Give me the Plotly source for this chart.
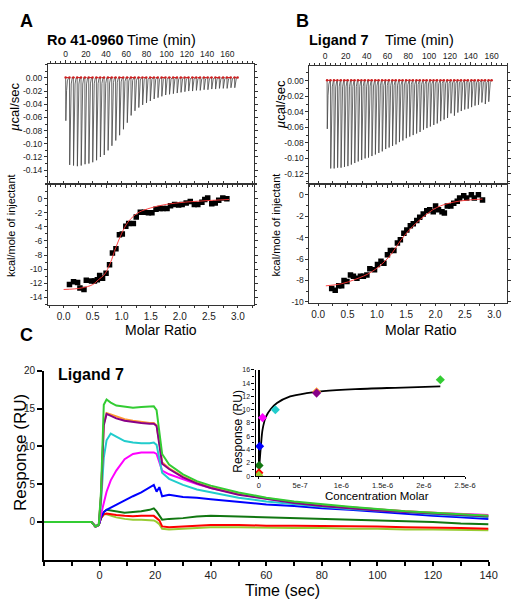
import plotly.graph_objects as go

FONT = "Liberation Sans, Arial, Helvetica, sans-serif"
W, H = 526, 603

# ---------------- Panel A : Ro 41-0960 (ITC) ----------------
a_inj_time = [0, 3.8, 7.6, 11.4, 15.2, 19.0, 22.8, 26.6, 30.4, 34.2, 38.0, 41.8, 45.6, 49.4, 53.2,
              57.0, 60.8, 64.6, 68.4, 72.2, 76.0, 79.8, 83.6, 87.4, 91.2, 95.0, 98.8, 102.6, 106.4,
              110.2, 114.0, 117.8, 121.6, 125.4, 129.2, 133.0, 136.8, 140.6, 144.4, 148.2, 152.0,
              155.8, 159.6, 163.4, 167.2]
a_peak = [-0.065, -0.132, -0.133, -0.134, -0.133, -0.131, -0.130, -0.128, -0.125, -0.120, -0.117,
          -0.110, -0.103, -0.095, -0.087, -0.078, -0.068, -0.057, -0.050, -0.045, -0.041, -0.038,
          -0.035, -0.032, -0.030, -0.028, -0.026, -0.025, -0.024, -0.023, -0.022, -0.021, -0.020,
          -0.020, -0.019, -0.019, -0.018, -0.018, -0.017, -0.017, -0.016, -0.016, -0.016, -0.015,
          -0.015]
a_molar = [0.10, 0.17, 0.24, 0.28, 0.35, 0.39, 0.48, 0.53, 0.58, 0.62, 0.67, 0.73, 0.79, 0.84, 0.90,
           0.96, 1.01, 1.07, 1.12, 1.20, 1.25, 1.32, 1.39, 1.46, 1.52, 1.59, 1.66, 1.71, 1.78, 1.84,
           1.91, 1.98, 2.04, 2.11, 2.18, 2.25, 2.31, 2.38, 2.43, 2.48, 2.55, 2.61, 2.67, 2.74, 2.81]
a_heat = [-12.2, -11.8, -11.9, -12.7, -12.9, -11.6, -11.7, -11.7, -11.5, -10.9, -11.3, -10.6, -9.4,
          -7.7, -7.1, -5.1, -5.0, -3.9, -3.5, -3.5, -2.6, -1.9, -1.9, -2.0, -2.0, -1.5, -1.4, -1.4,
          -1.4, -1.0, -0.8, -0.9, -0.8, -0.6, -0.4, -0.8, -0.8, -0.5, -0.1, 0.1, -0.7, -0.6, -0.2,
          0.1, 0.0]
a_fit_molar = [0.0, 0.3, 0.5, 0.6, 0.7, 0.8, 0.9, 1.0, 1.1, 1.2, 1.3, 1.5, 1.7, 2.0, 2.4, 2.85]
a_fit_heat = [-12.9, -12.7, -12.2, -11.5, -10.8, -9.2, -6.9, -4.9, -3.4, -2.5, -1.9, -1.3, -0.9,
              -0.55, -0.3, -0.1]

# ---------------- Panel B : Ligand 7 (ITC) ----------------
b_inj_time = [2.0, 5.3, 8.6, 11.9, 15.2, 18.5, 21.8, 25.1, 28.4, 31.7, 35.0, 38.3, 41.6, 44.9, 48.2,
              51.5, 54.8, 58.1, 61.4, 64.7, 68.0, 71.3, 74.6, 77.9, 81.2, 84.5, 87.8, 91.1, 94.4,
              97.7, 101.0, 104.3, 107.6, 110.9, 114.2, 117.5, 120.8, 124.1, 127.4, 130.7, 134.0,
              137.3, 140.6, 143.9, 147.2, 150.5, 153.8, 157.1]
b_peak = [-0.062, -0.113, -0.113, -0.112, -0.112, -0.111, -0.110, -0.108, -0.106, -0.104, -0.102,
          -0.100, -0.099, -0.097, -0.095, -0.093, -0.091, -0.088, -0.086, -0.084, -0.082, -0.079,
          -0.077, -0.074, -0.072, -0.070, -0.068, -0.066, -0.063, -0.061, -0.059, -0.057, -0.055,
          -0.052, -0.050, -0.048, -0.042, -0.045, -0.041, -0.039, -0.037, -0.036, -0.034, -0.032,
          -0.031, -0.028, -0.030, -0.027]
b_molar = [0.23, 0.29, 0.35, 0.40, 0.44, 0.49, 0.55, 0.60, 0.66, 0.72, 0.77, 0.83, 0.88, 0.96, 1.01,
           1.07, 1.12, 1.18, 1.23, 1.29, 1.35, 1.40, 1.46, 1.51, 1.57, 1.62, 1.68, 1.73, 1.79, 1.85,
           1.90, 1.96, 2.00, 2.05, 2.11, 2.15, 2.20, 2.26, 2.31, 2.37, 2.41, 2.48, 2.53, 2.61, 2.66,
           2.73, 2.80]
b_heat = [-8.75, -8.9, -8.5, -8.5, -8.0, -8.1, -7.5, -7.6, -7.8, -7.6, -7.6, -7.5, -6.9, -7.0, -6.5,
          -6.2, -6.4, -5.6, -5.2, -5.2, -4.5, -4.2, -3.6, -3.3, -2.9, -2.7, -2.4, -2.1, -1.8, -1.5,
          -1.4, -1.6, -1.05, -1.4, -1.6, -1.7, -1.05, -1.05, -0.8, -0.6, -0.3, -0.1, -0.3, 0.0,
          -0.3, 0.0, -0.5]
b_fit_molar = [0.13, 0.4, 0.63, 0.91, 1.19, 1.47, 1.74, 2.02, 2.3, 2.55, 2.8]
b_fit_heat = [-8.5, -8.3, -7.9, -7.2, -5.9, -3.8, -2.3, -1.2, -0.7, -0.5, -0.4]

# ---------------- Panel C : SPR sensorgrams (Ligand 7) ----------------
spr_time = [-20, -10, -3, -1.5, -0.3, 0.5, 1.5, 2.5, 4, 6, 9, 12, 15, 18, 19.5, 20.5, 21.5, 22.5,
            25, 30, 35, 40, 50, 60, 70, 80, 90, 100, 110, 120, 130, 140]
spr_green = [0, 0, 0, -0.6, -0.4, 4.0, 15.5, 16.2, 15.8, 15.4, 15.2, 15.1, 15.2, 15.2, 15.3, 14.8,
             11.5, 9.0, 7.6, 6.3, 5.4, 4.8, 3.9, 3.2, 2.7, 2.3, 2.0, 1.7, 1.4, 1.2, 1.0, 0.8]
spr_orange = [0, 0, 0, -0.6, -0.4, 3.5, 13.0, 14.4, 14.2, 13.9, 13.6, 13.4, 13.2, 13.1, 13.1, 12.8,
              10.5, 7.9, 7.1, 6.0, 5.2, 4.6, 3.7, 3.1, 2.6, 2.2, 1.9, 1.6, 1.4, 1.2, 1.0, 0.8]
spr_purple = [0, 0, 0, -0.6, -0.4, 3.4, 12.8, 14.3, 14.0, 13.7, 13.4, 13.2, 13.1, 13.0, 13.0, 12.7,
              10.3, 7.7, 7.0, 5.9, 5.1, 4.5, 3.6, 3.0, 2.5, 2.1, 1.8, 1.5, 1.3, 1.1, 0.9, 0.7]
spr_cyan = [0, 0, 0, -0.6, -0.4, 2.5, 8.5, 10.8, 11.7, 11.3, 10.7, 10.5, 10.4, 10.4, 10.5, 10.2,
            8.5, 6.5, 5.7, 4.9, 4.3, 3.9, 3.2, 2.7, 2.3, 2.0, 1.7, 1.5, 1.3, 1.0, 0.8, 0.6]
spr_magenta = [0, 0, 0, -0.6, -0.4, 1.0, 2.5, 4.0, 5.5, 6.8, 8.3, 9.0, 9.2, 9.2, 9.2, 9.0, 7.8, 6.8,
               6.3, 5.6, 5.0, 4.5, 3.7, 3.1, 2.6, 2.2, 1.9, 1.7, 1.4, 1.2, 1.0, 0.9]
spr_blue = [0, 0, 0, -0.6, -0.4, 0.6, 1.3, 1.6, 1.9, 2.3, 2.9, 3.4, 3.9, 4.5, 4.9, 4.0, 4.6, 3.4,
            3.6, 3.3, 3.2, 3.0, 2.7, 2.3, 2.1, 1.8, 1.6, 1.3, 1.1, 0.8, 0.6, 0.4]
spr_darkgreen = [0, 0, 0, -0.6, -0.4, 0.6, 1.3, 1.6, 1.5, 1.3, 1.2, 1.3, 1.4, 1.6, 1.8, 1.4, 0.9,
                 0.3, 0.4, 0.5, 0.7, 0.8, 0.7, 0.6, 0.5, 0.4, 0.3, 0.2, 0.1, 0.0, -0.2, -0.3]
spr_red = [0, 0, 0, -0.6, -0.4, 0.5, 1.0, 1.1, 1.0, 0.9, 0.8, 0.75, 0.8, 0.8, 0.8, 0.5, 0.2, -0.6,
           -0.7, -0.6, -0.5, -0.4, -0.4, -0.5, -0.5, -0.5, -0.6, -0.6, -0.7, -0.7, -0.8, -0.9]
spr_lime = [0, 0, 0, -0.6, -0.4, 0.5, 1.0, 1.0, 0.8, 0.6, 0.4, 0.3, 0.3, 0.2, 0.2, 0.0, -0.3, -0.9,
            -1.0, -0.9, -0.8, -0.7, -0.7, -0.8, -0.8, -0.8, -0.9, -0.9, -1.0, -1.0, -1.1, -1.1]

# inset: steady-state response vs concentration
inset_conc = [2.2e-6, 7.0e-7, 7.0e-7, 2.0e-7, 4.5e-8, 1.0e-8, 3e-9, 1e-9, 0.0]
inset_resp = [14.5, 12.7, 12.5, 10.0, 8.8, 4.5, 1.6, 0.5, 0.1]
fit_conc = [0, 1e-8, 2.6e-8, 4.5e-8, 8.5e-8, 1.45e-7, 2.2e-7, 3.8e-7, 5.8e-7, 7.8e-7, 1.17e-6,
            1.65e-6, 2.2e-6]
fit_resp = [0, 2.2, 4.7, 7.0, 8.9, 10.1, 11.0, 12.0, 12.5, 12.8, 13.1, 13.3, 13.5]

# tick labels
itc_top_a_ticks = [0.00, -0.02, -0.04, -0.06, -0.08, -0.10, -0.12, -0.14]
itc_top_b_ticks = [0.00, -0.02, -0.04, -0.06, -0.08, -0.10, -0.12]
time_min_ticks = [0, 20, 40, 60, 80, 100, 120, 140, 160]
molar_ticks = [0.0, 0.5, 1.0, 1.5, 2.0, 2.5, 3.0]
heat_a_ticks = [0, -2, -4, -6, -8, -10, -12, -14]
heat_b_ticks = [0, -2, -4, -6, -8, -10]
spr_x_ticks = [0, 20, 40, 60, 80, 100, 120, 140]
spr_y_ticks = [0, 5, 10, 15, 20]
inset_x_ticks = [0, 5e-7, 1e-6, 1.5e-6, 2e-6, 2.5e-6]
inset_x_text = ["0", "5e-7", "1e-6", "1.5e-6", "2e-6", "2.5e-6"]
inset_y_ticks = [0, 2, 4, 6, 8, 10, 12, 14, 16]

# colours (style)
SPR_COLORS = {"green": "#33cc33", "orange": "#ff9933", "purple": "#880088", "cyan": "#22cccc",
              "magenta": "#ff00ff", "blue": "#0000ff", "darkgreen": "#117711", "red": "#ff0000",
              "lime": "#99cc33"}
inset_colors = ["#33cc33", "#ff9933", "#880088", "#22cccc", "#ff00ff", "#0000ff", "#117711",
                "#ff0000", "#99cc33"]


def spike_path(times, depths):
    xs, ys = [], []
    for t, d in zip(times, depths):
        xs += [t, t + 0.2, t + 0.9, t + 1.7, t + 2.7]
        ys += [0, d, d * 0.3, d * 0.07, 0]
    return xs, ys


def px(x):
    return x / W


def py(y):
    return 1 - y / H


fig = go.Figure()

# --- ITC raw traces
for times, peaks, xa, ya in [(a_inj_time, a_peak, "x", "y"), (b_inj_time, b_peak, "x3", "y3")]:
    xs, ys = spike_path(times, peaks)
    fig.add_trace(go.Scatter(x=xs, y=ys, mode="lines", line=dict(color="#444444", width=0.8),
                             xaxis=xa, yaxis=ya, hoverinfo="skip"))
    fig.add_trace(go.Scatter(x=list(times) + [times[-1] + 3], y=[0.0005] * (len(times) + 1),
                             mode="lines+markers", line=dict(color="#dd2222", width=1, dash="dot"),
                             marker=dict(size=2.5, color="#cc2222"), xaxis=xa, yaxis=ya))

# --- ITC integrated heats
for mx, hy, fx, fy, xa, ya in [(a_molar, a_heat, a_fit_molar, a_fit_heat, "x2", "y2"),
                               (b_molar, b_heat, b_fit_molar, b_fit_heat, "x4", "y4")]:
    fig.add_trace(go.Scatter(x=mx, y=hy, mode="markers",
                             marker=dict(symbol="square", size=5.5, color="black"),
                             xaxis=xa, yaxis=ya))
    fig.add_trace(go.Scatter(x=fx, y=fy, mode="lines",
                             line=dict(color="#ff3333", width=0.9, shape="spline", smoothing=1.0),
                             xaxis=xa, yaxis=ya))

# --- SPR sensorgrams
spr_series = [("lime", spr_lime), ("red", spr_red), ("darkgreen", spr_darkgreen), ("blue", spr_blue),
              ("magenta", spr_magenta), ("cyan", spr_cyan), ("orange", spr_orange),
              ("purple", spr_purple), ("green", spr_green)]
for name, vals in spr_series:
    fig.add_trace(go.Scatter(x=spr_time, y=vals, mode="lines",
                             line=dict(color=SPR_COLORS[name], width=2),
                             xaxis="x5", yaxis="y5"))

# --- inset
fig.add_trace(go.Scatter(x=fit_conc, y=fit_resp, mode="lines",
                         line=dict(color="black", width=1.8, shape="spline", smoothing=0.8),
                         xaxis="x6", yaxis="y6"))
fig.add_trace(go.Scatter(x=inset_conc, y=inset_resp, mode="markers",
                         marker=dict(symbol="diamond", size=7, color=inset_colors),
                         xaxis="x6", yaxis="y6"))

tick_font = dict(family=FONT, size=8.5, color="#222222")


def itc_ax(**kw):
    d = dict(showline=True, linecolor="#333333", linewidth=1, mirror="allticks", ticks="outside",
             ticklen=3, tickwidth=0.8, tickcolor="#333333", tickfont=tick_font, showgrid=False,
             zeroline=False)
    d.update(kw)
    return d


A_X = [px(49), px(259)]
B_X = [px(316), px(518)]
TOP_Y = [py(181), py(59)]
TOP_YB = [py(181), py(61)]
BOT_YA = [py(304), py(181)]
BOT_YB = [py(302), py(181)]

fig.update_layout(
    width=W, height=H, margin=dict(l=0, r=0, t=0, b=0), showlegend=False,
    paper_bgcolor="white", plot_bgcolor="white", font=dict(family=FONT, color="black"),
    xaxis=itc_ax(domain=A_X, anchor="y", side="top", range=[-17.5, 186],
                 tickvals=time_min_ticks, minor=dict(dtick=5, ticks="outside", ticklen=2)),
    yaxis=itc_ax(domain=TOP_Y, anchor="x", range=[-0.161, 0.021], tickvals=itc_top_a_ticks,
                 ticktext=[f"{v:.2f}" for v in itc_top_a_ticks],
                 minor=dict(dtick=0.01, ticks="outside", ticklen=2)),
    xaxis2=itc_ax(domain=A_X, anchor="y2", range=[-0.27, 3.27], tickvals=molar_ticks, ticklen=2,
                  ticktext=[f"{v:.1f}" for v in molar_ticks], tickfont=dict(family=FONT, size=10, color="#222"),
                  minor=dict(dtick=0.25, ticks="outside", ticklen=2)),
    yaxis2=itc_ax(domain=BOT_YA, anchor="x2", range=[-15.1, 2.1], tickvals=heat_a_ticks,
                  ticktext=[str(v) for v in heat_a_ticks],
                  minor=dict(dtick=1, ticks="outside", ticklen=2)),
    xaxis3=itc_ax(domain=B_X, anchor="y3", side="top", range=[-15, 175],
                  tickvals=time_min_ticks, minor=dict(dtick=5, ticks="outside", ticklen=2)),
    yaxis3=itc_ax(domain=TOP_YB, anchor="x3", range=[-0.133, 0.019], tickvals=itc_top_b_ticks,
                  ticktext=[f"{v:.2f}" for v in itc_top_b_ticks],
                  minor=dict(dtick=0.01, ticks="outside", ticklen=2)),
    xaxis4=itc_ax(domain=B_X, anchor="y4", range=[-0.15, 3.22], tickvals=molar_ticks, ticklen=2,
                  ticktext=[f"{v:.1f}" for v in molar_ticks], tickfont=dict(family=FONT, size=10, color="#222"),
                  minor=dict(dtick=0.25, ticks="outside", ticklen=2)),
    yaxis4=itc_ax(domain=BOT_YB, anchor="x4", range=[-10.1, 1.0], tickvals=heat_b_ticks,
                  ticktext=[str(v) for v in heat_b_ticks],
                  minor=dict(dtick=1, ticks="outside", ticklen=2)),
    xaxis5=dict(domain=[px(45), px(499)], anchor="y5", range=[-20, 140], showline=True,
                linecolor="black", linewidth=2, ticks="outside", ticklen=4, tickwidth=1.5,
                tickcolor="black", tickvals=spr_x_ticks, ticktext=[str(v) for v in spr_x_ticks],
                tickfont=dict(family=FONT, size=11, color="#222"), showgrid=False, zeroline=False,
                minor=dict(dtick=10, tick0=0, ticks="outside", ticklen=4, tickwidth=1.5, tickcolor="black")),
    yaxis5=dict(domain=[py(563), py(371)], anchor="x5", range=[-5, 20], showline=True,
                linecolor="black", linewidth=2, ticks="outside", ticklen=5, tickwidth=1.5,
                tickcolor="black", tickvals=spr_y_ticks, ticktext=[str(v) for v in spr_y_ticks],
                tickfont=dict(family=FONT, size=10, color="#222"), showgrid=False, zeroline=False),
    xaxis6=dict(domain=[px(261), px(475)], anchor="y6", range=[-4e-8, 2.5e-6], showline=True,
                linecolor="black", linewidth=1.2, ticks="outside", ticklen=2, tickcolor="black",
                tickvals=inset_x_ticks, ticktext=inset_x_text,
                tickfont=dict(family=FONT, size=7.5, color="#222"), showgrid=False,
                zeroline=True, zerolinecolor="black", zerolinewidth=2,
                minor=dict(dtick=2.5e-7, tick0=0, ticks="outside", ticklen=2, tickcolor="black")),
    yaxis6=dict(domain=[py(478), py(370)], anchor="x6", range=[0, 16], showline=True,
                linecolor="black", linewidth=1.2, ticks="outside", ticklen=3, tickcolor="black",
                tickvals=inset_y_ticks, ticktext=[str(v) for v in inset_y_ticks],
                tickfont=dict(family=FONT, size=7, color="#222"), showgrid=False, zeroline=False,
                minor=dict(dtick=1, ticks="outside", ticklen=2, tickcolor="black")),
)


def ann(text, x, y, size, xanchor="center", angle=0, bold=False):
    if bold:
        text = f"<b>{text}</b>"
    fig.add_annotation(text=text, x=px(x), y=py(y), xref="paper", yref="paper", showarrow=False,
                       xanchor=xanchor, yanchor="middle", textangle=angle,
                       font=dict(family=FONT, size=size, color="black"))


ann("A", 27, 15, 18, bold=True)
ann("B", 309, 15, 18, bold=True)
ann("C", 27, 335, 18, bold=True)
ann("Ro 41-0960", 46, 35, 14.5, xanchor="left", bold=True)
ann("Time (min)", 128, 35, 14.5, xanchor="left")
ann("Ligand 7", 314, 35, 14.5, xanchor="left", bold=True)
ann("Time (min)", 391, 35, 14.5, xanchor="left")
ann("<i>µ</i>cal/sec", 15, 103, 13, angle=-90)
ann("<i>µ</i>cal/sec", 286, 100, 13, angle=-90)
ann("kcal/mole of injectant", 12, 223, 11, angle=-90)
ann("kcal/mole of injectant", 282, 223, 11, angle=-90)
ann("Molar Ratio", 164, 329, 14)
ann("Molar Ratio", 430, 329, 14)
ann("Ligand 7", 57, 375, 16, xanchor="left", bold=True)
ann("Response (RU)", 21, 454, 17, angle=-90)
ann("Time (sec)", 289, 594, 16)
ann("Response (RU)", 243, 432, 12, angle=-90)
ann("Concentration Molar", 385, 498, 11.5)

fig.write_html("out.html", config={"displayModeBar": False},
               post_script="document.body.style.margin='0';document.body.style.overflow='hidden';")
